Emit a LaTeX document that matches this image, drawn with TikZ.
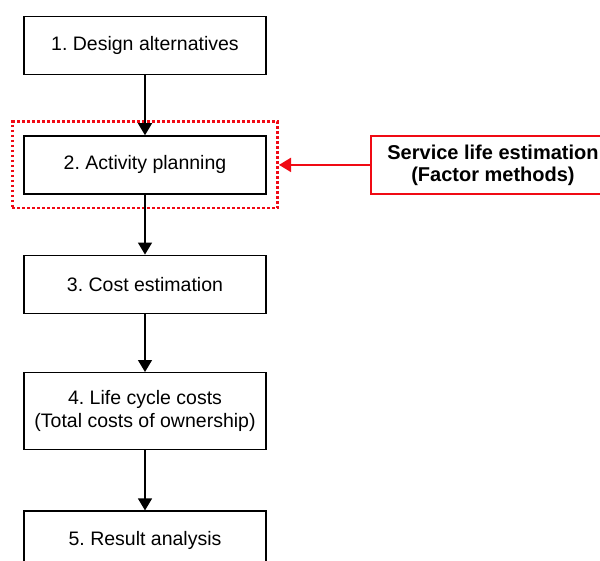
\documentclass[tikz,border=0pt]{standalone}
\usepackage{fontspec}
\setmainfont{Liberation Sans}
\frenchspacing
\usetikzlibrary{arrows.meta,fit,positioning}
\definecolor{frred}{RGB}{240,10,20}
\tikzset{
  flow/.style={-{Triangle[length=12pt, width=14pt]}, line width=1.4pt, draw=black},
  redflow/.style={-{Triangle[length=12pt, width=14pt]}, line width=2pt, draw=frred, fill=frred},
  stagebox/.style={
    draw=black,
    line width=1.4pt,
    fill=white,
    align=center,
    minimum width=242pt,
    minimum height=58pt,
    inner sep=2pt,
    font=\fontsize{19.5}{23}\selectfont
  },
  inputbox/.style={stagebox, draw=frred, line width=2pt, minimum width=244pt,
    font=\fontsize{20}{22}\selectfont\bfseries},
  dotframe/.style={draw=frred, line width=2.6pt, dash pattern=on 2.6pt off 2.4pt,
    inner xsep=11pt, inner ysep=13.5pt}
}
\begin{document}
\begin{tikzpicture}[node distance=60pt]
  \useasboundingbox (0pt,0pt) rectangle (600pt,-560pt);
  \node[stagebox] (design) at (145pt,-45.5pt) {1. Design alternatives};
  \node[stagebox, below=60pt of design] (planning) {2. Activity planning};
  \node[stagebox, below=of planning] (cost) {3. Cost estimation};
  \node[stagebox, below=58pt of cost, minimum height=77pt] (lcc) {4. Life cycle costs\\(Total costs of ownership)};
  \node[stagebox, below=of lcc] (result) {5. Result analysis};

  \node[dotframe, fit=(planning)] (frame) {};
  \node[inputbox, right=91pt of frame] (service) {Service life estimation\\(Factor methods)};

  \draw[flow] (design) -- (planning);
  \draw[flow] (planning) -- (cost);
  \draw[flow] (cost) -- (lcc);
  \draw[flow] (lcc) -- (result);
  \draw[redflow] (service) -- (frame);

\end{tikzpicture}
\end{document}
